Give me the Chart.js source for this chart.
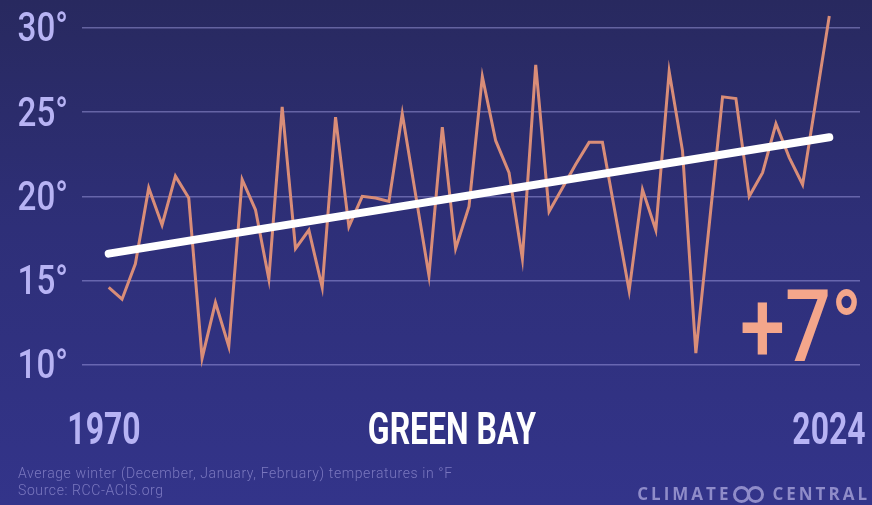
<!DOCTYPE html>
<html>
<head>
<meta charset="utf-8">
<script src="https://cdn.jsdelivr.net/npm/chart.js@4.4.1/dist/chart.umd.min.js"></script>
<style>
  html, body { margin: 0; padding: 0; }
  body {
    width: 872px; height: 505px; overflow: hidden; position: relative;
    background: linear-gradient(180deg, #28295f 0%, #2e2f78 45%, #33348a 100%);
    font-family: "Roboto", sans-serif;
  }
  #wrap { position: absolute; left: 0; top: 0; width: 872px; height: 505px; }
  .lbl { position: absolute; white-space: nowrap; }
  .ytick {
    width: 120px; text-align: right; color: #b7b3f4;
    font-size: 40px; line-height: 40px; font-weight: 500;
    transform: scaleX(0.83); transform-origin: right center;
  }
  .xtick, .city {
    width: 300px; text-align: center; font-weight: 700;
    font-size: 45px; line-height: 45px; top: 406px;
    transform: scaleX(0.71); transform-origin: center center;
  }
  .xtick { color: #b7b3f4; }
  .city { color: #ffffff; left: 302px; }
  .delta {
    left: 740px; top: 277px; color: #f4a68b;
    font-size: 100px; line-height: 100px; font-weight: 500;
    transform: scaleX(0.81); transform-origin: left center;
  }
  .note {
    left: 18px; top: 465px;
    color: rgba(150, 146, 212, 0.72);
    font-size: 14px; line-height: 17px; font-weight: 300; letter-spacing: 0.6px;
  }
  .brand {
    right: 2px; top: 484px;
    color: #8f8cc9; font-family: "Open Sans", sans-serif; font-weight: 700;
    font-size: 17px; line-height: 19px; letter-spacing: 3px;
  }
  .rings { display: inline-block; position: relative; width: 34px; height: 15px; vertical-align: -1px; margin: 0 5px 0 2px; }
  .rings i { position: absolute; top: 0; width: 11px; height: 11px; border: 3px solid #8f8cc9; border-radius: 50%; }
  .rings i:first-child { left: 0; }
  .rings i:last-child { left: 14px; }
</style>
</head>
<body>
<div id="wrap"><canvas id="chart" width="872" height="505"></canvas></div>
<div class="lbl city">GREEN BAY</div>
<div class="lbl delta">+7°</div>
<div class="lbl note">Average winter (December, January, February) temperatures in °F<br>Source: RCC-ACIS.org</div>
<div class="lbl brand">CLIMATE<span class="rings"><i></i><i></i></span>CENTRAL</div>
<script>
// Winter (DJF) average temperature, Green Bay, °F
const years = [];
for (let y = 1970; y <= 2024; y++) years.push(y);
const temps = [
  14.6, 13.9, 16.0, 20.5, 18.3, 21.2, 19.9, 10.4, 13.7, 11.1,
  21.0, 19.2, 15.1, 25.3, 16.9, 18.0, 14.6, 24.7, 18.2, 20.0,
  19.9, 19.7, 24.9, 20.1, 15.3, 24.1, 16.9, 19.4, 27.1, 23.3,
  21.4, 16.3, 27.8, 19.1, 20.5, 21.9, 23.2, 23.2, 18.8, 14.4,
  20.4, 18.0, 27.4, 22.7, 10.7, 18.3, 25.9, 25.8, 20.0, 21.4,
  24.3, 22.3, 20.7, 25.7, 30.7
];
const trendYears = [1970, 2024];
const trendValues = [16.6, 23.5];
const yTicks = [10, 15, 20, 25, 30];
const xTicks = [1970, 2024];

const chart = new Chart(document.getElementById('chart'), {
  type: 'line',
  data: {
    datasets: [
      {
        label: 'Trend',
        data: trendYears.map((x, i) => ({ x, y: trendValues[i] })),
        borderColor: '#ffffff',
        borderWidth: 8,
        borderCapStyle: 'round',
        pointRadius: 0,
        order: 0
      },
      {
        label: 'Winter temperature',
        data: years.map((x, i) => ({ x, y: temps[i] })),
        borderColor: '#d98d78',
        borderWidth: 3,
        pointRadius: 0,
        tension: 0,
        order: 1
      }
    ]
  },
  options: {
    responsive: false,
    animation: false,
    layout: { padding: { left: 82, top: 2.4, right: 12, bottom: 131.6 } },
    plugins: { legend: { display: false }, tooltip: { enabled: false } },
    scales: {
      x: {
        type: 'linear',
        display: false,
        min: 1968,
        max: 2026.3
      },
      y: {
        min: 9.5,
        max: 31.5,
        afterBuildTicks: s => { s.ticks = yTicks.map(v => ({ value: v })); },
        afterFit: s => { s.width = 0; },
        grid: { color: 'rgba(172, 168, 238, 0.45)', lineWidth: 1.5, drawTicks: false },
        border: { display: false },
        ticks: { display: false }
      }
    }
  }
});

// tick labels placed from the chart's own scales
function addLabel(cls, text, left, top) {
  const d = document.createElement('div');
  d.className = 'lbl ' + cls;
  d.textContent = text;
  d.style.left = left + 'px';
  d.style.top = top + 'px';
  document.body.appendChild(d);
}
const ys = chart.scales.y, xs = chart.scales.x;
yTicks.forEach(v => addLabel('ytick', v + '°', 68 - 120, ys.getPixelForValue(v) - 19.5));
xTicks.forEach((v, i) => addLabel('xtick', String(v), xs.getPixelForValue(v) - 150 - (i === 0 ? 5 : 0), 406));
</script>
</body>
</html>
